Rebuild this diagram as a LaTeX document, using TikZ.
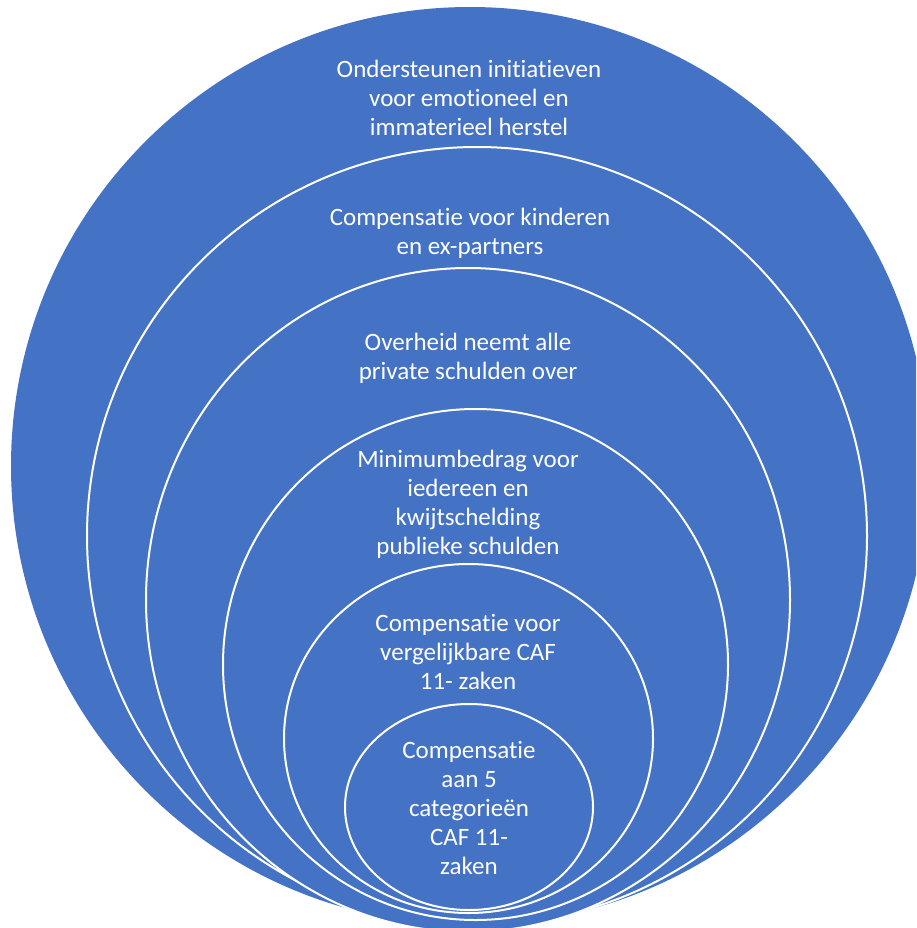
\documentclass[tikz,border=0pt]{standalone}
\usepackage{fontspec}
\setmainfont{Carlito}[RawFeature=-liga]
\definecolor{ringblue}{HTML}{4472C4}
\begin{document}
\begin{tikzpicture}[x=1pt,y=-1pt,
  ring/.style={fill=ringblue,draw=white,line width=2pt},
  lbl/.style={text=white,align=center,font=\fontsize{25}{29}\selectfont,inner sep=0pt}]
\useasboundingbox (0,0) rectangle (916,928);
\clip (0,0) rectangle (916,928);
\path[fill=ringblue] (470,466) circle[radius=459];
\draw[ring] (477,536) ellipse[x radius=390,y radius=389];
\draw[ring] (468,600) ellipse[x radius=322,y radius=332];
\draw[ring] (475.5,664.5) ellipse[x radius=252.5,y radius=255.5];
\draw[ring] (468.5,738.5) ellipse[x radius=184.5,y radius=174.5];
\draw[ring] (469,807) ellipse[x radius=124,y radius=103];
\node[lbl] (t1) at (469,98) {Ondersteunen initiatieven\\voor emotioneel en\\immaterieel herstel};
\node[lbl] (t2) at (470,233) {Compensatie voor kinderen\\en ex-partners};
\node[lbl] (t3) at (468,358) {Overheid neemt alle\\private schulden over};
\node[lbl] (t4) at (468,504) {Minimumbedrag voor\\iedereen en\\kwijtschelding\\publieke schulden};
\node[lbl] (t5) at (468,652) {Compensatie voor\\vergelijkbare CAF\\11- zaken};
\node[lbl] (t6) at (469,808) {Compensatie\\aan 5\\categorieën\\CAF 11-\\zaken};
\end{tikzpicture}
\end{document}
